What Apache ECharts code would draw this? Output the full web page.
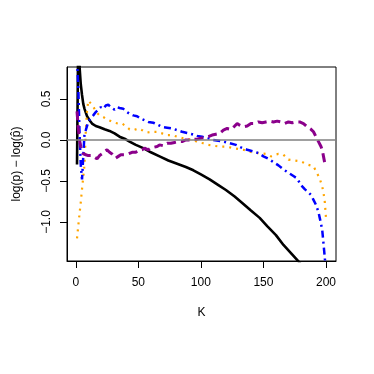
<!DOCTYPE html>
<html>
<head>
<meta charset="utf-8">
<script src="https://cdn.jsdelivr.net/npm/echarts@6/dist/echarts.min.js"></script>
<style>
  html, body { margin: 0; padding: 0; background: #fff; }
  #main { width: 374px; height: 374px; }
</style>
</head>
<body>
<div id="main"></div>
<script>
// 数据：从图上读出来的值
var blackK = [1, 2, 3, 4, 5, 6, 7, 9, 11, 13, 16, 19, 23, 27, 31, 35, 39, 43, 48, 54, 60, 67, 74, 81, 88, 94, 100, 107, 114, 120, 127, 134, 140, 147, 153, 160, 166, 172, 178, 182]
var blackV = [-0.30, 1.3, 0.9, 0.68, 0.55, 0.44, 0.38, 0.29, 0.24, 0.2, 0.17, 0.155, 0.13, 0.11, 0.08, 0.04, 0.015, -0.02, -0.06, -0.1, -0.15, -0.2, -0.25, -0.29, -0.33, -0.37, -0.42, -0.48, -0.55, -0.61, -0.69, -0.78, -0.86, -0.95, -1.05, -1.16, -1.28, -1.38, -1.48, -1.56]

var orangeK = [1, 2, 3, 4, 5, 6, 7, 8, 9, 10, 11, 13, 15, 17, 19, 22, 25, 28, 31, 34, 37, 40, 43, 46, 50, 53, 57, 61, 65, 69, 73, 77, 81, 86, 90, 94, 98, 102, 106, 110, 115, 120, 126, 130, 134, 138, 141, 146, 152, 156, 159, 162, 166, 170, 175, 180, 185, 190, 193, 195, 196, 197, 198, 199, 200]
var orangeV = [-1.2, -1.05, -0.9, -0.76, -0.6, -0.45, -0.3, 0.1, 0.35, 0.48, 0.47, 0.43, 0.38, 0.33, 0.3, 0.28, 0.25, 0.23, 0.21, 0.2, 0.2, 0.17, 0.13, 0.12, 0.14, 0.12, 0.09, 0.1, 0.1, 0.08, 0.06, 0.06, 0.04, 0.02, 0.01, 0.0, -0.03, -0.04, -0.06, -0.07, -0.08, -0.08, -0.1, -0.11, -0.12, -0.14, -0.15, -0.16, -0.17, -0.2, -0.18, -0.17, -0.18, -0.24, -0.25, -0.26, -0.3, -0.32, -0.41, -0.47, -0.52, -0.57, -0.64, -0.75, -0.95]

var blueK = [1, 2, 3, 4, 5, 6, 7, 8, 10, 12, 14, 16, 18, 20, 22, 24, 26, 28, 31, 33, 35, 38, 41, 43, 46, 49, 52, 55, 58, 62, 65, 69, 73, 77, 81, 85, 89, 93, 97, 101, 106, 110, 114, 118, 123, 128, 132, 137, 142, 146, 150, 154, 158, 162, 166, 170, 174, 177, 180, 183, 186, 188, 190, 192, 194, 195, 196, 197, 198, 199, 200]
var blueV = [1.0, 0.65, 0.1, -0.3, -0.48, -0.2, 0.08, 0.12, 0.22, 0.27, 0.3, 0.34, 0.37, 0.4, 0.38, 0.42, 0.43, 0.4, 0.37, 0.4, 0.39, 0.38, 0.34, 0.32, 0.3, 0.29, 0.26, 0.24, 0.22, 0.21, 0.19, 0.16, 0.15, 0.14, 0.12, 0.1, 0.085, 0.07, 0.05, 0.04, 0.02, 0.0, -0.01, -0.02, -0.04, -0.06, -0.09, -0.12, -0.14, -0.16, -0.2, -0.23, -0.27, -0.31, -0.36, -0.4, -0.44, -0.47, -0.55, -0.6, -0.64, -0.67, -0.73, -0.79, -0.88, -0.95, -1.02, -1.1, -1.26, -1.43, -1.6]

var purpleK = [1, 2, 3, 4, 5, 6, 8, 10, 12, 14, 17, 19, 21, 23, 25, 27, 29, 32, 34, 36, 39, 42, 45, 48, 50, 53, 55, 58, 60, 62, 65, 67, 70, 73, 76, 79, 82, 85, 88, 91, 94, 97, 100, 103, 106, 109, 112, 115, 118, 121, 124, 127, 129, 131, 134, 137, 140, 143, 146, 149, 152, 155, 158, 161, 164, 167, 170, 173, 176, 179, 182, 185, 188, 190, 192, 194, 196, 197, 198, 199]
var purpleV = [0.35, 0.15, 0.0, -0.08, -0.14, -0.17, -0.18, -0.19, -0.19, -0.2, -0.23, -0.19, -0.17, -0.14, -0.12, -0.15, -0.17, -0.22, -0.2, -0.18, -0.18, -0.17, -0.15, -0.15, -0.13, -0.12, -0.1, -0.12, -0.1, -0.09, -0.08, -0.06, -0.07, -0.04, -0.04, -0.03, -0.02, -0.02, 0.0, 0.0, 0.01, 0.01, 0.02, 0.03, 0.04, 0.06, 0.07, 0.08, 0.12, 0.14, 0.13, 0.17, 0.2, 0.18, 0.16, 0.17, 0.2, 0.2, 0.22, 0.21, 0.22, 0.23, 0.22, 0.23, 0.22, 0.2, 0.22, 0.21, 0.22, 0.22, 0.2, 0.16, 0.13, 0.1, 0.04, -0.02, -0.08, -0.12, -0.2, -0.28]

var xTicks = [0, 50, 100, 150, 200]
var yTicks = [-1, -0.5, 0, 0.5]

function pairs (ks, vs) {
  return ks.map(function (k, i) { return [k, vs[i]] })
}

var myChart = echarts.init(document.getElementById('main'))

var font = 'Liberation Sans, Arial, sans-serif'

var option = {
  animation: false,
  backgroundColor: '#fff',
  grid: {
    left: 67, right: 38, top: 67, bottom: 113,
    show: true, borderColor: '#000', borderWidth: 1
  },
  xAxis: {
    type: 'value',
    min: -7, max: 208,
    name: 'K',
    nameLocation: 'middle',
    nameGap: 46,
    nameTextStyle: { color: '#000', fontSize: 12, fontFamily: font },
    axisLine: { show: true, onZero: false, lineStyle: { color: '#000', width: 1 } },
    splitLine: { show: false },
    axisTick: { show: true, inside: false, length: 7, customValues: xTicks, lineStyle: { color: '#000', width: 1 } },
    axisLabel: {
      customValues: xTicks, color: '#000', fontSize: 12, fontFamily: font, margin: 16
    }
  },
  yAxis: {
    type: 'value',
    min: -1.476, max: 0.89,
    name: 'log(p) \u2212 log(p\u0302)',
    nameLocation: 'middle',
    nameRotate: 90,
    nameGap: 44,
    nameTextStyle: { color: '#000', fontSize: 12, fontFamily: font },
    axisLine: { show: true, onZero: false, lineStyle: { color: '#000', width: 1 } },
    splitLine: { show: false },
    axisTick: { show: true, inside: false, length: 7, customValues: yTicks, lineStyle: { color: '#000', width: 1 } },
    axisLabel: {
      customValues: yTicks, rotate: 90, color: '#000', fontSize: 12, fontFamily: font, margin: 14,
      formatter: function (v) { return v.toFixed(1).replace('-', '\u2212') }
    }
  },
  series: [
    {
      type: 'line',
      data: pairs(blackK, blackV),
      showSymbol: false,
      lineStyle: { color: '#000', width: 2.6 },
      markLine: {
        silent: true, symbol: 'none', label: { show: false },
        lineStyle: { color: '#808080', width: 1.5, type: 'solid' },
        data: [{ yAxis: 0 }]
      }
    },
    {
      type: 'line',
      data: pairs(orangeK, orangeV),
      showSymbol: false,
      lineStyle: { color: '#FFA500', width: 2.2, type: [2, 5], cap: 'butt' }
    },
    {
      type: 'line',
      data: pairs(blueK, blueV),
      showSymbol: false,
      lineStyle: { color: '#0000FF', width: 2.5, type: [7, 4, 2, 4] }
    },
    {
      type: 'line',
      data: pairs(purpleK, purpleV),
      showSymbol: false,
      lineStyle: { color: '#8B008B', width: 3, type: [9, 5] }
    }
  ]
}

myChart.setOption(option)
</script>
</body>
</html>
